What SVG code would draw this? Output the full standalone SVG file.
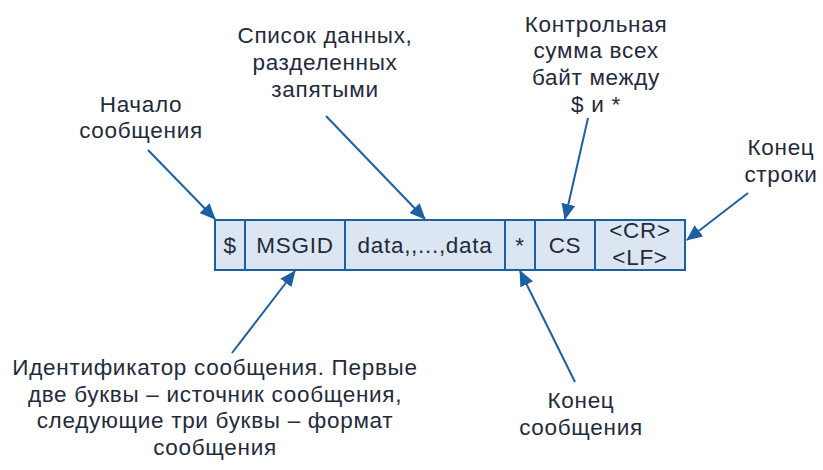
<svg xmlns="http://www.w3.org/2000/svg" width="823" height="470" viewBox="0 0 823 470">
<style>
text{font-family:"Liberation Sans",Arial,sans-serif;font-size:22.5px;letter-spacing:0.7px;fill:#1f2a3c;text-anchor:middle}
.cell{fill:#dce6f2;stroke:#1d5fa3;stroke-width:2}
.conn{stroke:#1d5fa3;stroke-width:2;fill:none;marker-end:url(#ah)}
</style>
<defs>
<marker id="ah" markerUnits="userSpaceOnUse" markerWidth="16" markerHeight="14" refX="15" refY="7" orient="auto">
<path d="M0,0 L16,7 L0,14 Z" fill="#1d5fa3"/>
</marker>
</defs>
<rect width="823" height="470" fill="#ffffff"/>
<g id="message">
<g id="cell-dollar"><rect class="cell" x="215" y="220" width="30" height="50"/><text x="230" y="253">$</text></g>
<g id="cell-msgid"><rect class="cell" x="245" y="220" width="100" height="50"/><text x="295" y="253">MSGID</text></g>
<g id="cell-data"><rect class="cell" x="345" y="220" width="160" height="50"/><text x="425" y="253">data,,...,data</text></g>
<g id="cell-star"><rect class="cell" x="505" y="220" width="30" height="50"/><text x="520" y="253">*</text></g>
<g id="cell-cs"><rect class="cell" x="535" y="220" width="60" height="50"/><text x="565" y="253">CS</text></g>
<g id="cell-crlf"><rect class="cell" x="595" y="220" width="90" height="50"/><text x="640" y="238">&lt;CR&gt;</text><text x="640" y="265">&lt;LF&gt;</text></g>
</g>
<g id="label-start"><text x="141" y="112">Начало</text><text x="141" y="138">сообщения</text></g>
<g id="label-data"><text x="325" y="43">Список данных,</text><text x="325" y="70">разделенных</text><text x="325" y="97">запятыми</text></g>
<g id="label-cs"><text x="596" y="32">Контрольная</text><text x="596" y="58">сумма всех</text><text x="596" y="85">байт между</text><text x="596" y="112">$ и *</text></g>
<g id="label-eol"><text x="781" y="155">Конец</text><text x="781" y="182">строки</text></g>
<g id="label-msgid"><text x="215" y="375">Идентификатор сообщения. Первые</text><text x="215" y="402">две буквы – источник сообщения,</text><text x="215" y="428">следующие три буквы – формат</text><text x="215" y="455">сообщения</text></g>
<g id="label-end"><text x="581" y="408">Конец</text><text x="581" y="435">сообщения</text></g>
<g id="connectors">
<line class="conn" x1="148" y1="150" x2="215" y2="219"/>
<line class="conn" x1="326" y1="116" x2="425" y2="219"/>
<line class="conn" x1="588" y1="118" x2="565" y2="219"/>
<line class="conn" x1="748" y1="193" x2="687" y2="240"/>
<line class="conn" x1="232" y1="353" x2="295" y2="271"/>
<line class="conn" x1="575" y1="382" x2="520" y2="271"/>
</g>
</svg>
